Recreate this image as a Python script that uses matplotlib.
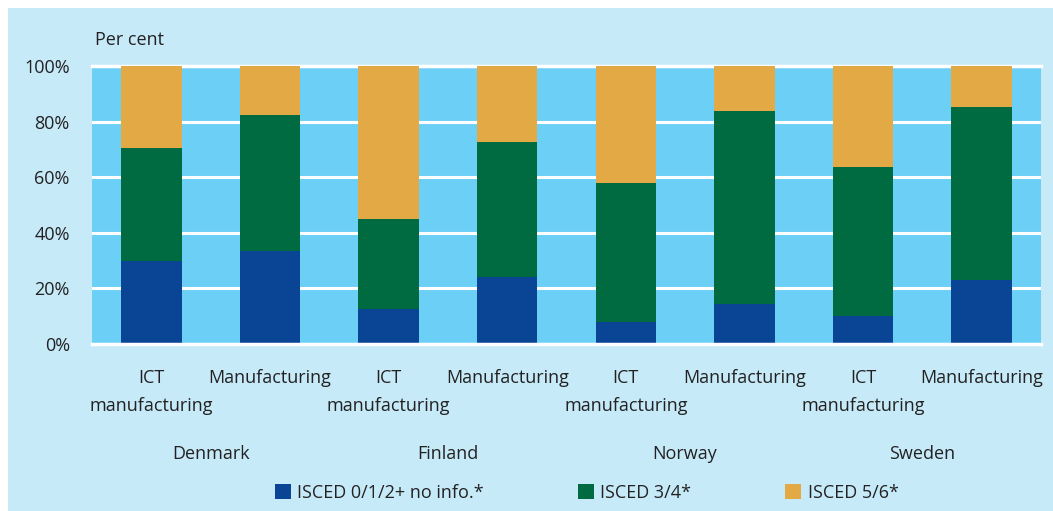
import matplotlib
matplotlib.use("Agg")
import matplotlib.pyplot as plt
from matplotlib.patches import Rectangle
import numpy as np

plt.rcParams['font.family'] = ['Liberation Sans Narrow', 'Open Sans', 'DejaVu Sans']

countries = ["Denmark", "Finland", "Norway", "Sweden"]
sectors = ["ICT\nmanufacturing", "Manufacturing"]
series_names = ["ISCED 0/1/2+ no info.*", "ISCED 3/4*", "ISCED 5/6*"]
low = [30, 33.5, 12.5, 24, 8, 14.5, 10, 23]
mid = [40.5, 49, 32.5, 48.7, 50, 69.3, 53.7, 62.3]
high = [100 - a - b for a, b in zip(low, mid)]
yticks = [0, 20, 40, 60, 80, 100]
ytick_labels = ["0%", "20%", "40%", "60%", "80%", "100%"]
colors = ["#0a4595", "#006a40", "#e3a945"]

W, H = 1053, 511
fig = plt.figure(figsize=(W / 100, H / 100), dpi=100, facecolor="white")
bg = Rectangle((8 / W, 0), 1 - 8 / W, 1 - 8 / H, transform=fig.transFigure,
               facecolor="#c7eaf9", edgecolor="none", zorder=-10)
fig.patches.append(bg)
ax = fig.add_axes([92 / W, 1 - 344 / H, (1041 - 92) / W, (344 - 66) / H])
ax.set_zorder(5)
ax.set_facecolor("#6ccff6")
x = np.arange(len(low))
bw = 0.51
ax.bar(x, low, bw, color=colors[0], label=series_names[0], zorder=3)
ax.bar(x, mid, bw, bottom=low, color=colors[1], label=series_names[1], zorder=3)
ax.bar(x, high, bw, bottom=[a + b for a, b in zip(low, mid)], color=colors[2],
       label=series_names[2], zorder=3)
ax.set_xlim(-0.5, len(low) - 0.5)
ax.set_ylim(0, 100)
ax.set_yticks(yticks)
ax.set_yticklabels(ytick_labels, fontsize=13, color="#222222")
ax.yaxis.grid(True, color="white", linewidth=2.2, zorder=1)
ax.set_axisbelow(True)
for s in ax.spines.values():
    s.set_visible(False)
ax.tick_params(axis="y", length=0, pad=16)
ax.tick_params(axis="x", length=0, pad=18)
ax.set_xticks(x)
ax.set_xticklabels(sectors * len(countries), fontsize=13, color="#222222",
                   linespacing=1.72, va="top")
ax.axhline(0, color="white", linewidth=2.5, zorder=4, clip_on=False)
ax.axhline(100, color="white", linewidth=2.5, zorder=2, clip_on=False)

for i, c in enumerate(countries):
    ax.text(2 * i + 0.5, -0.395, c, transform=ax.get_xaxis_transform(),
            ha="center", va="center", fontsize=13, color="#222222")

fig.text(95 / W, 1 - 40 / H, "Per cent", fontsize=13, color="#222222", va="center")

handles, labels = ax.get_legend_handles_labels()
leg = fig.legend(handles, labels, loc="center", bbox_to_anchor=(0.557, 1 - 493 / H),
                 ncol=3, frameon=False, fontsize=13, handlelength=0.9,
                 handleheight=0.9, handletextpad=0.35, columnspacing=5.2)
for t in leg.get_texts():
    t.set_color("#222222")

fig.savefig("out.png", dpi=100, facecolor="white")
